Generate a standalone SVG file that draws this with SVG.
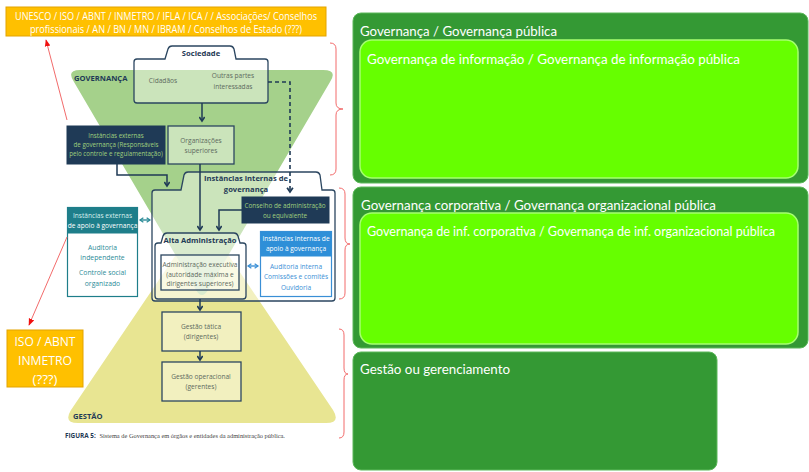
<svg xmlns="http://www.w3.org/2000/svg" width="809" height="472" viewBox="0 0 809 472">
  <defs>
    <style>
      .sans { font-family: "Open Sans", "Noto Sans", "Liberation Sans", sans-serif; }
      .note { fill: #ffc000; stroke: #e3a400; stroke-width: 1; }
      .note-t { fill: #ffffff; text-anchor: middle; }
      .navy-box { fill: #1f3a56; stroke: #1f3a56; }
      .pale { fill: #ffffff; fill-opacity: 0.42; stroke: #2b4660; stroke-width: 1.3; }
      .pale2 { fill: #ffffff; fill-opacity: 0.28; stroke: #2b4660; stroke-width: 1.3; }
      .ttl { fill: #1f3a56; font-weight: bold; text-anchor: middle; font-size: 7.6px; }
      .lbl { fill: #5d6a60; text-anchor: middle; font-size: 6.6px; }
      .lbl-g { fill: #9fd07e; text-anchor: middle; font-size: 6.4px; }
      .teal-t { fill: #2c8c98; text-anchor: middle; font-size: 6.8px; }
      .blue-t { fill: #3a8fd6; text-anchor: middle; font-size: 6.6px; }
      .wh { fill: #ffffff; text-anchor: middle; font-size: 6.6px; }
      .flow { fill: none; stroke: #1f3a56; stroke-width: 1.5; }
      .dash { fill: none; stroke: #1f3a56; stroke-width: 1.6; stroke-dasharray: 4 3; }
      .red { fill: none; stroke: #f26b6b; stroke-width: 1; }
      .outer { fill: #349934; stroke: #5cb85a; stroke-width: 1; }
      .inner { fill: #66ff00; stroke: #a6ff70; stroke-width: 1.5; }
      .head { fill: #ffffff; font-size: 14px; font-family: Lato, "Open Sans", sans-serif; }
      .head-sm { font-size: 12.5px; }
    </style>
    <marker id="chev" viewBox="0 0 10 10" refX="7" refY="5" markerWidth="4.5" markerHeight="4.5" orient="auto">
      <path d="M1,1 L7,5 L1,9" fill="none" stroke="#1f3a56" stroke-width="2.4"/>
    </marker>
    <marker id="chev-teal" viewBox="0 0 10 10" refX="7" refY="5" markerWidth="4" markerHeight="4" orient="auto-start-reverse">
      <path d="M1,1 L7,5 L1,9" fill="none" stroke="#2c8c98" stroke-width="2.2"/>
    </marker>
    <marker id="chev-blue" viewBox="0 0 10 10" refX="7" refY="5" markerWidth="4" markerHeight="4" orient="auto-start-reverse">
      <path d="M1,1 L7,5 L1,9" fill="none" stroke="#3a8fd6" stroke-width="2.2"/>
    </marker>
    <marker id="redhead" viewBox="0 0 10 10" refX="9" refY="5" markerWidth="7" markerHeight="7" orient="auto">
      <path d="M0,1 L10,5 L0,9 Z" fill="#f01010"/>
    </marker>
  </defs>

  <rect width="809" height="472" fill="#ffffff"/>

  <!-- background funnels -->
  <path d="M196,225 Q202,214 208,225 L333,410 Q341,423 326,423 H78 Q63,423 71,410 Z" fill="#e8e592"/>
  <path d="M80,70 H323 Q338,70 330,82 L208,290 Q202,300 196,290 L74,82 Q66,70 80,70 Z" fill="#a5d18b"/>
  <text class="sans" x="74" y="81" font-size="7.6" font-weight="bold" fill="#1f3a56">GOVERNANÇA</text>
  <text class="sans" x="73" y="419" font-size="7.6" font-weight="bold" fill="#1f3a56">GESTÃO</text>

  <!-- notes -->
  <g id="note-top">
    <rect class="note" x="6" y="7" width="320" height="29"/>
    <text class="sans note-t" x="166" y="20" font-size="10.5" textLength="302" lengthAdjust="spacingAndGlyphs">UNESCO / ISO / ABNT / INMETRO / IFLA / ICA /  / Associações/ Conselhos</text>
    <text class="sans note-t" x="166" y="33" font-size="10.5" textLength="272" lengthAdjust="spacingAndGlyphs">profissionais  / AN / BN / MN / IBRAM / Conselhos de Estado (???)</text>
  </g>
  <g id="note-bottom">
    <rect class="note" x="7" y="330" width="76" height="57"/>
    <text class="sans note-t" x="45" y="346" font-size="13.5" textLength="61" lengthAdjust="spacingAndGlyphs">ISO / ABNT</text>
    <text class="sans note-t" x="45" y="365" font-size="13.5" textLength="54" lengthAdjust="spacingAndGlyphs">INMETRO</text>
    <text class="sans note-t" x="45" y="384" font-size="13.5" textLength="25" lengthAdjust="spacingAndGlyphs">(???)</text>
  </g>

  <!-- containers -->
  <g id="instancias-internas">
    <path class="pale" d="M152,298 V193 Q152,190 155,190 H181 L184,175 Q185,172 188,172 H316 Q319,172 320,175 L322,190 H332 Q335,190 335,193 V298 Q335,301 332,301 H155 Q152,301 152,298 Z"/>
    <text class="sans ttl" x="246" y="181">Instâncias internas de</text>
    <text class="sans ttl" x="246" y="192">governança</text>
  </g>

  <g id="sociedade">
    <path class="pale" d="M134,100 V62 Q134,59 137,59 H165 L168,49 Q169,46 172,46 H230 Q233,46 234,49 L236,59 H265 Q268,59 268,62 V100 Q268,103 265,103 H137 Q134,103 134,100 Z"/>
    <text class="sans ttl" x="201" y="56">Sociedade</text>
    <text class="sans lbl" x="163" y="83">Cidadãos</text>
    <text class="sans lbl" x="233" y="78">Outras partes</text>
    <text class="sans lbl" x="233" y="89">interessadas</text>
  </g>

  <g id="organizacoes-superiores">
    <rect class="pale" x="168" y="126" width="66" height="38"/>
    <text class="sans lbl" x="201" y="143">Organizações</text>
    <text class="sans lbl" x="201" y="153">superiores</text>
  </g>

  <g id="instancias-externas-governanca">
    <rect class="navy-box" x="67" y="126" width="98" height="38"/>
    <text class="sans lbl-g" x="116" y="138" style="font-size:6.2px">Instâncias externas</text>
    <text class="sans lbl-g" x="116" y="147" style="font-size:6.2px">de governança (Responsáveis</text>
    <text class="sans lbl-g" x="116" y="156" style="font-size:6.2px">pelo controle e regulamentação)</text>
  </g>

  <g id="conselho">
    <rect class="navy-box" x="242" y="197" width="87" height="26"/>
    <text class="sans lbl-g" x="285" y="208">Conselho de administração</text>
    <text class="sans lbl-g" x="285" y="218">ou equivalente</text>
  </g>

  <g id="instancias-externas-apoio">
    <rect x="67.5" y="207.5" width="70" height="89" fill="#ffffff" stroke="#1e7e8a" stroke-width="1.2"/>
    <rect x="67.5" y="207.5" width="70" height="26" fill="#1e7e8a"/>
    <text class="sans wh" x="102.5" y="218" style="fill:#d8f0ee">Instâncias externas</text>
    <text class="sans wh" x="102.5" y="228">de apoio à governança</text>
    <text class="sans teal-t" x="102.5" y="250">Auditoria</text>
    <text class="sans teal-t" x="102.5" y="260">independente</text>
    <text class="sans teal-t" x="102.5" y="275">Controle social</text>
    <text class="sans teal-t" x="102.5" y="286">organizado</text>
  </g>

  <g id="instancias-internas-apoio">
    <rect x="260.5" y="231.5" width="71" height="65" fill="#ffffff" stroke="#3a8fd6" stroke-width="1.2"/>
    <rect x="260.5" y="231.5" width="71" height="25" fill="#2e8fd8"/>
    <text class="sans wh" x="296" y="241">Instâncias internas de</text>
    <text class="sans wh" x="296" y="251">apoio à governança</text>
    <text class="sans blue-t" x="296" y="269">Auditoria interna</text>
    <text class="sans blue-t" x="296" y="279">Comissões e comitês</text>
    <text class="sans blue-t" x="296" y="290">Ouvidoria</text>
  </g>

  <g id="alta-administracao">
    <path class="pale2" d="M155,296 V246 Q155,243 158,243 H161 L163,236 Q164,233 167,233 H234 Q237,233 238,236 L240,243 H243 Q246,243 246,246 V296 Q246,299 243,299 H158 Q155,299 155,296 Z"/>
    <text class="sans ttl" x="200" y="243">Alta Administração</text>
    <rect class="pale" x="161" y="255" width="78" height="35"/>
    <text class="sans lbl" x="200" y="267">Administração executiva</text>
    <text class="sans lbl" x="200" y="277">(autoridade máxima e</text>
    <text class="sans lbl" x="200" y="286">dirigentes superiores)</text>
  </g>

  <g id="gestao-tatica">
    <rect class="pale" x="162" y="312" width="79" height="39"/>
    <text class="sans lbl" x="201" y="329">Gestão tática</text>
    <text class="sans lbl" x="201" y="339">(dirigentes)</text>
  </g>

  <g id="gestao-operacional">
    <rect class="pale" x="162" y="362" width="79" height="39"/>
    <text class="sans lbl" x="201" y="379">Gestão operacional</text>
    <text class="sans lbl" x="201" y="389">(gerentes)</text>
  </g>

  <text x="65" y="438" font-size="6.4" fill="#444444"><tspan font-family="Open Sans, Noto Sans, sans-serif" font-weight="bold" fill="#1f3a56">FIGURA 5:</tspan><tspan font-family="Liberation Serif, serif" dx="2"> Sistema de Governança em órgãos e entidades da administração pública.</tspan></text>

  <!-- connectors -->
  <g id="connectors">
    <line class="flow" x1="202" y1="103" x2="202" y2="121" marker-end="url(#chev)"/>
    <polyline class="flow" points="117,164 117,175 167,175 167,186" marker-end="url(#chev)"/>
    <line class="flow" x1="200" y1="164" x2="200" y2="230" marker-end="url(#chev)"/>
    <polyline class="flow" points="242,210 219,210 219,230" marker-end="url(#chev)"/>
    <polyline class="dash" points="268,82 290,82 290,192" marker-end="url(#chev)"/>
    <line class="flow" x1="200" y1="299" x2="200" y2="310" marker-end="url(#chev)"/>
    <line class="flow" x1="200" y1="351" x2="200" y2="360" marker-end="url(#chev)"/>
    <line x1="140" y1="220" x2="150" y2="220" stroke="#2c8c98" stroke-width="1.4" marker-start="url(#chev-teal)" marker-end="url(#chev-teal)"/>
    <line x1="248" y1="266" x2="258" y2="266" stroke="#3a8fd6" stroke-width="1.4" marker-start="url(#chev-blue)" marker-end="url(#chev-blue)"/>
    <line x1="67" y1="120" x2="46" y2="40" stroke="#f26b6b" stroke-width="1" marker-end="url(#redhead)"/>
    <line x1="67" y1="237" x2="29" y2="325" stroke="#f26b6b" stroke-width="1" marker-end="url(#redhead)"/>
    <path class="red" d="M330,43 Q336,43 336,49 V103 Q336,109 343,109 Q336,109 336,115 V169 Q336,175 330,175"/>
    <path class="red" d="M339,188 Q345,188 345,194 V238 Q345,244 350,244 Q345,244 345,250 V293 Q345,299 339,299"/>
    <path class="red" d="M339,329 Q344,329 344,335 V368 Q344,374 348,374 Q344,374 344,380 V432 Q344,438 339,438"/>
  </g>

  <!-- right-hand panels -->
  <g id="governanca-publica">
    <rect class="outer" x="353" y="13" width="455" height="170" rx="8"/>
    <text class="head" x="360" y="36" textLength="197" lengthAdjust="spacingAndGlyphs">Governança / Governança pública</text>
    <rect class="inner" x="360" y="40" width="438" height="138" rx="12"/>
    <text class="head" x="367" y="64" textLength="373" lengthAdjust="spacingAndGlyphs">Governança de informação / Governança de informação pública</text>
  </g>
  <g id="governanca-corporativa">
    <rect class="outer" x="353" y="187" width="455" height="161" rx="8"/>
    <text class="head" x="361" y="210" textLength="355" lengthAdjust="spacingAndGlyphs">Governança corporativa / Governança organizacional pública</text>
    <rect class="inner" x="360" y="213" width="438" height="131" rx="12"/>
    <text class="head head-sm" x="367" y="236" textLength="408" lengthAdjust="spacingAndGlyphs">Governança de inf. corporativa / Governança de inf. organizacional pública</text>
  </g>
  <g id="gestao">
    <rect class="outer" x="353" y="352" width="364" height="118" rx="8"/>
    <text class="head" x="360" y="374" textLength="150" lengthAdjust="spacingAndGlyphs">Gestão ou gerenciamento</text>
  </g>
</svg>
